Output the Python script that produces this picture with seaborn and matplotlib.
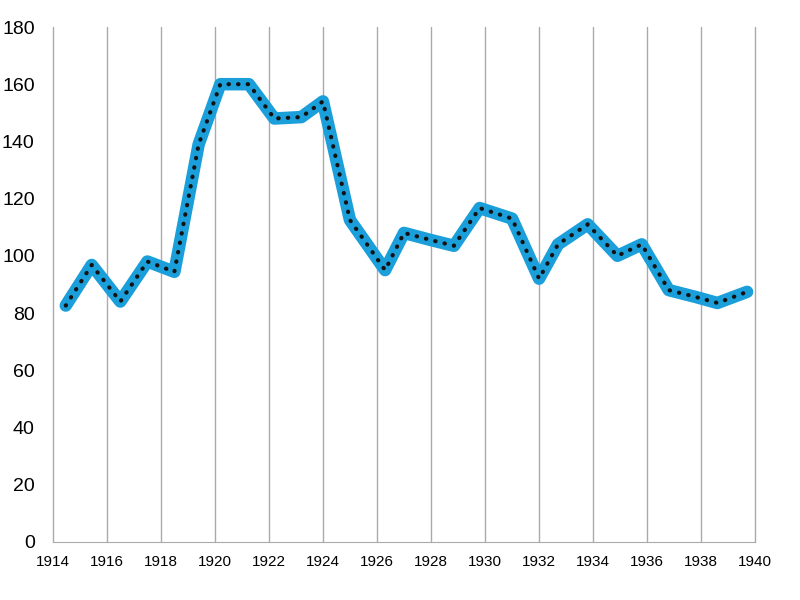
import matplotlib
matplotlib.use("Agg")
import matplotlib.pyplot as plt
import seaborn as sns
import pandas as pd

years = [1914.48, 1915.44, 1916.5, 1917.5, 1918.5, 1919.4, 1920.2, 1921.26, 1922.2, 1923.2,
         1924.0, 1925.0, 1926.3, 1927.0, 1928.0, 1928.85, 1929.8, 1931.0, 1932.0, 1932.7,
         1933.8, 1934.9, 1935.8, 1936.8, 1937.8, 1938.6, 1939.7]
values = [82.6, 96.8, 84, 98, 94.4, 139, 160, 160, 148, 148.5,
          154, 112.5, 95, 108, 105.5, 103.5, 116.7, 113, 92, 104,
          111, 100, 104, 88, 85.6, 83.5, 87.4]
xticks = list(range(1914, 1941, 2))
yticks = list(range(0, 181, 20))

df = pd.DataFrame({"year": years, "value": values})
sns.set_style("white")
plt.rcParams['font.family'] = ['Liberation Sans', 'DejaVu Sans']
fig, ax = plt.subplots(figsize=(8, 6), dpi=100)
fig.subplots_adjust(left=0.066, right=0.944, top=0.955, bottom=0.097)
for x in xticks:
    ax.axvline(x, color="#aaaaaa", lw=1, zorder=0, clip_on=False)
sns.lineplot(data=df, x="year", y="value", ax=ax, color="#1a9fdb", lw=9,
             solid_joinstyle="round", solid_capstyle="round")
sns.lineplot(data=df, x="year", y="value", ax=ax, color="#111111", lw=3, linestyle=(0, (0.1, 2.2)),
             dash_capstyle="round")
ax.set_xlim(1914, 1940)
ax.set_ylim(0, 180)
ax.set_xticks(xticks)
ax.set_yticks(yticks)
ax.set_xlabel("")
ax.set_ylabel("")
for s in ["top", "right", "left"]:
    ax.spines[s].set_visible(False)
ax.spines["bottom"].set_color("#aaaaaa")
ax.tick_params(axis="x", length=6, color="#aaaaaa", labelsize=11, labelcolor="black")
ax.tick_params(axis="y", length=12, color="#aaaaaa", labelsize=14, labelcolor="black", pad=1)
fig.savefig("out.png")
